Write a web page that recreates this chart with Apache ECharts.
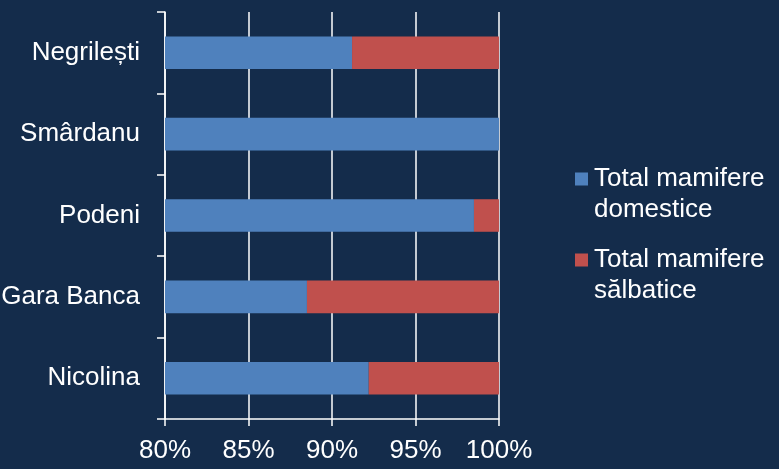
<!DOCTYPE html>
<html>
<head>
<meta charset="utf-8">
<script src="https://cdn.jsdelivr.net/npm/echarts@6/dist/echarts.min.js"></script>
<style>
html,body{margin:0;padding:0;background:#142c4b;}
#c{width:779px;height:469px;}
</style>
</head>
<body>
<div id="c"></div>
<script>
const categories = ['Nicolina', 'Gara Banca', 'Podeni', 'Smârdanu', 'Negrilești'];
const domestice = [92.2, 88.5, 98.5, 100, 91.2];
const salbatice = [7.8, 11.5, 1.5, 0, 8.8];
const xTicks = [80, 85, 90, 95, 100];
const seriesNames = ['Total mamifere\ndomestice', 'Total mamifere\nsălbatice'];

const font = 'Liberation Sans, Arial, sans-serif';
const iconPath = 'path://M0,0h13v13h-13zM6,42.99h0.01v0.01h-0.01z';

const chart = echarts.init(document.getElementById('c'));
chart.setOption({
  animation: false,
  backgroundColor: '#142c4b',
  grid: { left: 165, right: 280, top: 12, bottom: 50, containLabel: false, outerBoundsMode: 'none' },
  xAxis: {
    type: 'value',
    min: xTicks[0],
    max: xTicks[xTicks.length - 1],
    interval: 5,
    axisLine: { show: true, lineStyle: { color: '#ffffff', width: 1.5 } },
    axisTick: { show: true, length: 7, lineStyle: { color: '#ffffff', width: 1.5 } },
    splitLine: { show: true, lineStyle: { color: '#ffffff', width: 1.5 } },
    axisLabel: { color: '#ffffff', fontSize: 26, fontFamily: font, margin: 19, formatter: v => v + '%' }
  },
  yAxis: {
    type: 'category',
    data: categories,
    axisLine: { show: true, lineStyle: { color: '#ffffff', width: 1.5 } },
    axisTick: { show: true, length: 8, lineStyle: { color: '#ffffff', width: 1.5 } },
    axisLabel: { color: '#ffffff', fontSize: 26, fontFamily: font, margin: 25 }
  },
  legend: {
    orient: 'vertical',
    left: 575,
    top: 163,
    padding: 0,
    itemGap: 19,
    itemWidth: 13,
    itemHeight: 43,
    icon: iconPath,
    itemStyle: { borderWidth: 0 },
    textStyle: { color: '#ffffff', fontSize: 26, fontFamily: font, lineHeight: 31, padding: [0, 0, 0, 1] },
    data: seriesNames.map(n => ({ name: n, icon: iconPath }))
  },
  series: [
    {
      name: seriesNames[0], type: 'bar', stack: 'total', data: domestice, clip: true,
      barCategoryGap: '60%',
      itemStyle: { color: '#4f81bd' }
    },
    {
      name: seriesNames[1], type: 'bar', stack: 'total', data: salbatice, clip: true,
      barCategoryGap: '60%',
      itemStyle: { color: '#c0504d' }
    }
  ]
});
</script>
</body>
</html>
